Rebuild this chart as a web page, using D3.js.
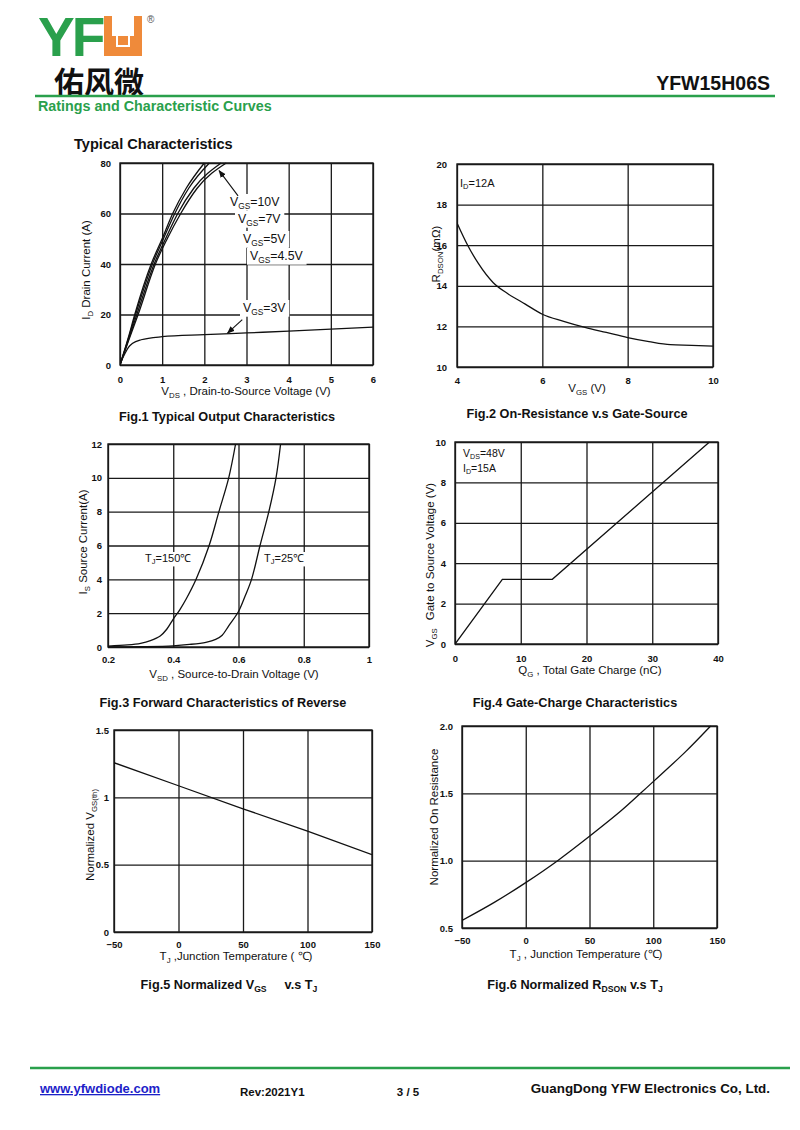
<!DOCTYPE html>
<html><head><meta charset="utf-8">
<script src="https://cdn.jsdelivr.net/npm/d3@7/dist/d3.min.js"></script>
<style>
body{margin:0;background:#fff}
svg{display:block}
text{font-family:"Liberation Sans",Arial,Helvetica,sans-serif;fill:#111}
</style>
</head><body>
<svg id="c" width="800" height="1130"></svg>
<script>
// ---------------- DATA ----------------
// Fig.1 Typical Output Characteristics  [VDS (V), ID (A)]
const fig1Vgs10  = [[0,0],[0.2,11],[0.35,20],[0.74,40],[1.0,50],[1.25,60],[1.57,70],[2.0,80]];
const fig1Vgs7   = [[0,0],[0.2,10.5],[0.37,20],[0.77,40],[1.03,50],[1.3,60],[1.63,70],[2.12,80]];
const fig1Vgs5   = [[0,0],[0.2,10],[0.40,20],[0.81,40],[1.08,50],[1.37,60],[1.75,70],[2.4,80]];
const fig1Vgs45  = [[0,0],[0.2,9.5],[0.43,20],[0.84,40],[1.12,50],[1.44,60],[1.83,70],[2.52,80]];
const fig1Vgs3   = [[0,0.5],[0.1,4],[0.2,7],[0.3,8.6],[0.5,10],[1,11.2],[2,12],[3,12.7],[4,13.4],[5,14.2],[6,15]];
const fig1XTicks = [0,1,2,3,4,5,6];
const fig1YTicks = [0,20,40,60,80];
const fig1Labels = ["=10V","=7V","=5V","=4.5V","=3V"];

// Fig.2 On-Resistance vs Gate-Source  [VGS (V), RDSON (mOhm)]
const fig2Rdson = [[4,17.1],[4.25,16.0],[4.5,15.1],[4.85,14.15],[5.2,13.6],[5.6,13.1],[6,12.6],[6.5,12.25],[7,11.95],[7.5,11.7],[8,11.45],[8.5,11.25],[9,11.1],[9.5,11.07],[10,11.03]];
const fig2XTicks = [4,6,8,10];
const fig2YTicks = [10,12,14,16,18,20];

// Fig.3 Forward characteristics of reverse diode  [VSD (V), IS (A)]
const fig3Tj150 = [[0.2,0.05],[0.26,0.12],[0.3,0.22],[0.33,0.38],[0.36,0.65],[0.38,1.05],[0.4,1.65],[0.42,2.2],[0.44,2.85],[0.47,4.0],[0.51,6.0],[0.54,8.0],[0.57,10.0],[0.591,12.0]];
const fig3Tj25  = [[0.2,0.0],[0.3,0.02],[0.4,0.07],[0.45,0.15],[0.5,0.28],[0.53,0.45],[0.55,0.7],[0.57,1.25],[0.6,2.1],[0.62,3.0],[0.64,4.0],[0.666,6.0],[0.693,8.0],[0.715,10.0],[0.729,12.0]];
const fig3XTicks = [0.2,0.4,0.6,0.8,1];
const fig3YTicks = [0,2,4,6,8,10,12];

// Fig.4 Gate charge  [QG (nC), VGS (V)]
const fig4Vgs = [[0,0],[7.2,3.2],[14.8,3.2],[38.7,10]];
const fig4XTicks = [0,10,20,30,40];
const fig4YTicks = [0,2,4,6,8,10];

// Fig.5 Normalized VGS(th) vs TJ
const fig5Vth = [[-50,1.257],[0,1.086],[50,0.915],[100,0.749],[150,0.575]];
const fig5XTicks = [-50,0,50,100,150];
const fig5YTicks = [0,0.5,1,1.5];

// Fig.6 Normalized RDSON vs TJ
const fig6Rds = [[-50,0.556],[-25,0.688],[0,0.837],[25,1.0],[50,1.181],[75,1.372],[90,1.50],[100,1.587],[125,1.806],[145,2.0]];
const fig6XTicks = [-50,0,50,100,150];
const fig6YTicks = [0.5,1.0,1.5,2.0];

// ---------------- DRAW ----------------
const svg = d3.select("#c");
const GREEN = "#2aa04c", ORANGE = "#ef8a3a", INK = "#1a1a1a";

// header
svg.append("text").attr("x",38).attr("y",56).attr("font-size",55).attr("font-weight","bold")
  .attr("letter-spacing",-3).style("fill",GREEN).text("YF");
svg.append("rect").attr("x",104).attr("y",16).attr("width",38).attr("height",40).attr("fill",ORANGE);
svg.append("rect").attr("x",112).attr("y",16).attr("width",22).attr("height",20).attr("fill","#fff");
svg.append("path").attr("d","M117,36 L117,46 L129,46 L129,36").attr("fill","none").attr("stroke","#fff").attr("stroke-width",2);
svg.append("text").attr("x",147).attr("y",23).attr("font-size",10).style("fill","#555").text("®");
svg.append("text").attr("x",54).attr("y",93).attr("font-size",30).attr("font-weight","bold")
  .style("font-family","'Noto Sans CJK SC',sans-serif").style("fill","#111").text("佑风微");
svg.append("text").attr("x",770).attr("y",90).attr("text-anchor","end").attr("font-size",19.5)
  .attr("font-weight","bold").text("YFW15H06S");
svg.append("line").attr("x1",35).attr("x2",775).attr("y1",96).attr("y2",96).attr("stroke",GREEN).attr("stroke-width",2.5);
svg.append("text").attr("x",38).attr("y",111).attr("font-size",14.3).attr("font-weight","bold").style("fill",GREEN)
  .text("Ratings and Characteristic Curves");
svg.append("text").attr("x",74).attr("y",149).attr("font-size",14.6).attr("font-weight","bold").text("Typical Characteristics");

// footer
svg.append("line").attr("x1",30).attr("x2",790).attr("y1",1068).attr("y2",1068).attr("stroke",GREEN).attr("stroke-width",2.5);
svg.append("text").attr("x",40).attr("y",1093).attr("font-size",13).attr("font-weight","bold")
  .attr("text-decoration","underline").style("fill","#1c22c8").text("www.yfwdiode.com");
svg.append("text").attr("x",240).attr("y",1096).attr("font-size",11.5).attr("font-weight","bold").text("Rev:2021Y1");
svg.append("text").attr("x",408).attr("y",1096).attr("text-anchor","middle").attr("font-size",11.5).attr("font-weight","bold").text("3 / 5");
svg.append("text").attr("x",770).attr("y",1093).attr("text-anchor","end").attr("font-size",13.4).attr("font-weight","bold")
  .text("GuangDong YFW Electronics Co, Ltd.");

// generic panel
let clipId = 0;
function panel(o){
  const x = d3.scaleLinear().domain(o.xd).range([o.l,o.r]);
  const y = d3.scaleLinear().domain(o.yd).range([o.b,o.t]);
  const g = svg.append("g");
  const ax = g.append("g").attr("transform",`translate(0,${o.b})`)
    .call(d3.axisBottom(x).tickValues(o.xt).tickSize(-(o.b-o.t)).tickPadding(o.xpad).tickFormat(o.xf||d3.format("")));
  const ay = g.append("g").attr("transform",`translate(${o.l},0)`)
    .call(d3.axisLeft(y).tickValues(o.yt).tickSize(-(o.r-o.l)).tickPadding(o.ypad).tickFormat(o.yf||d3.format("")));
  [ax,ay].forEach(a=>{
    a.select(".domain").remove();
    a.selectAll("line").attr("stroke",INK).attr("stroke-width",1.3);
    a.selectAll("text").attr("font-size",9.5).attr("font-weight","bold").style("fill","#111")
      .style("font-family","'Liberation Sans',Arial,sans-serif");
  });
  g.append("rect").attr("x",o.l).attr("y",o.t).attr("width",o.r-o.l).attr("height",o.b-o.t)
    .attr("fill","none").attr("stroke",INK).attr("stroke-width",1.4);
  const id = "clip"+(clipId++);
  g.append("clipPath").attr("id",id).append("rect").attr("x",o.l).attr("y",o.t-1).attr("width",o.r-o.l).attr("height",o.b-o.t+2);
  const plot = g.append("g").attr("clip-path",`url(#${id})`);
  const line = d3.line().x(d=>x(d[0])).y(d=>y(d[1])).curve(o.curve||d3.curveMonotoneX);
  return {x,y,g,plot,line};
}
function curve(p,data){
  p.plot.append("path").datum(data).attr("d",p.line).attr("fill","none")
    .attr("stroke","#111").attr("stroke-width",1.3);
}
// text with subscripts: parts = [[text,isSub,dx],...]
function rich(parent,x,y,parts,size,opts={}){
  const t = parent.append("text").attr("x",x).attr("y",y).attr("font-size",size);
  if(opts.anchor) t.attr("text-anchor",opts.anchor);
  if(opts.weight) t.attr("font-weight",opts.weight);
  if(opts.rotate) t.attr("transform",`rotate(-90,${x},${y})`);
  let sub=false;
  parts.forEach(([s,isSub,dx])=>{
    const ts = t.append("tspan").text(s);
    if(dx) ts.attr("dx",dx);
    if(isSub && !sub){ ts.attr("font-size",size*0.68).attr("dy",size*0.22); sub=true; }
    else if(!isSub && sub){ ts.attr("dy",-size*0.22); sub=false; }
  });
  return t;
}
function caption(x,y,parts){ rich(svg,x,y,parts,12.7,{anchor:"middle",weight:"bold"}); }

// ---- Fig.1
const p1 = panel({l:120,r:373,t:163,b:365,xd:[0,6],yd:[0,80],xt:fig1XTicks,yt:fig1YTicks,xpad:11.5,ypad:9});
[fig1Vgs10,fig1Vgs7,fig1Vgs5,fig1Vgs45,fig1Vgs3].forEach(d=>curve(p1,d));
const lab1 = [[230,206],[238,223],[243,243],[250,260],[243,312]];
fig1Labels.forEach((s,i)=>{
  const t = rich(p1.g,lab1[i][0],lab1[i][1],[["V"],["GS",true],[s]],12.3);
  const bb = t.node().getBBox();
  p1.g.insert("rect",()=>t.node()).attr("x",bb.x-3).attr("y",bb.y-1).attr("width",bb.width+6).attr("height",bb.height+1).attr("fill","#fff");
});
svg.append("defs").append("marker").attr("id","arr").attr("viewBox","0 0 10 10").attr("refX",9).attr("refY",5)
  .attr("markerWidth",7).attr("markerHeight",7).attr("orient","auto")
  .append("path").attr("d","M0,1 L10,5 L0,9 Z").attr("fill","#111");
p1.g.append("line").attr("x1",p1.x(2.8)).attr("y1",p1.y(67)).attr("x2",p1.x(2.35)).attr("y2",p1.y(77))
  .attr("stroke","#111").attr("stroke-width",1.1).attr("marker-end","url(#arr)");
p1.g.append("line").attr("x1",p1.x(2.9)).attr("y1",p1.y(18)).attr("x2",p1.x(2.55)).attr("y2",p1.y(12.6))
  .attr("stroke","#111").attr("stroke-width",1.1).attr("marker-end","url(#arr)");
rich(svg,246,395,[["V"],["DS",true],[" ,  Drain-to-Source Voltage (V)"]],11.5,{anchor:"middle"});
rich(svg,90,270,[["I"],["D",true],[" Drain Current (A)"]],11.5,{anchor:"middle",rotate:true});
caption(227,421,[["Fig.1 Typical Output Characteristics"]]);

// ---- Fig.2
const p2 = panel({l:457,r:713,t:164,b:367,xd:[4,10],yd:[10,20],xt:fig2XTicks,yt:fig2YTicks,xpad:10.5,ypad:10});
curve(p2,fig2Rdson);
rich(p2.g,460,187,[["I"],["D",true],["=12A"]],11);
rich(svg,587,392,[["V"],["GS",true],[" (V)"]],11.5,{anchor:"middle"});
rich(svg,440,254,[["R"],["DSON",true],["(mΩ)"]],11.5,{anchor:"middle",rotate:true});
caption(577,418,[["Fig.2 On-Resistance v.s Gate-Source"]]);

// ---- Fig.3
const p3 = panel({l:108,r:369,t:444,b:647,xd:[0.2,1],yd:[0,12],xt:fig3XTicks,yt:fig3YTicks,xpad:9.6,ypad:6,
  xf:d3.format(""),curve:d3.curveCatmullRom.alpha(0.5)});
curve(p3,fig3Tj150); curve(p3,fig3Tj25);
[[145,"=150℃"],[264,"=25℃"]].forEach(([xx,s])=>{
  const t = rich(p3.g,xx,562,[["T"],["J",true],[s]],11);
  const bb = t.node().getBBox();
  p3.g.insert("rect",()=>t.node()).attr("x",bb.x-1).attr("y",bb.y).attr("width",bb.width+2).attr("height",bb.height).attr("fill","#fff");
});
rich(svg,234,678,[["V"],["SD",true],[" , Source-to-Drain Voltage (V)"]],11.5,{anchor:"middle"});
rich(svg,87,542,[["I"],["S",true],[" Source Current(A)"]],11.5,{anchor:"middle",rotate:true});
caption(223,707,[["Fig.3 Forward Characteristics of Reverse"]]);

// ---- Fig.4
const p4 = panel({l:455,r:718,t:442,b:644,xd:[0,40],yd:[0,10],xt:fig4XTicks,yt:fig4YTicks,xpad:11.6,ypad:9,curve:d3.curveLinear});
curve(p4,fig4Vgs);
rich(p4.g,463,457,[["V"],["DS",true],["=48V"]],10.5);
rich(p4.g,463,472,[["I"],["D",true],["=15A"]],10.5);
rich(svg,590,674,[["Q"],["G",true],[" , Total Gate Charge (nC)"]],11.5,{anchor:"middle"});
rich(svg,434,565,[["V"],["GS",true],["Gate to Source Voltage (V)",false,8]],11.5,{anchor:"middle",rotate:true});
caption(575,707,[["Fig.4 Gate-Charge Characteristics"]]);

// ---- Fig.5
const p5 = panel({l:114,r:372,t:730,b:932,xd:[-50,150],yd:[0,1.5],xt:fig5XTicks,yt:fig5YTicks,xpad:9.5,ypad:5,curve:d3.curveLinear});
curve(p5,fig5Vth);
rich(svg,236,960,[["T"],["J",true],[" ,Junction Temperature ( ℃)"]],11.5,{anchor:"middle"});
rich(svg,94,835,[["Normalized V"],["GS(th)",true]],11.5,{anchor:"middle",rotate:true});
caption(229,989,[["Fig.5 Normalized V"],["GS",true],["v.s T",false,18],["J",true]]);

// ---- Fig.6
const p6 = panel({l:462,r:717,t:726,b:928,xd:[-50,150],yd:[0.5,2.0],xt:fig6XTicks,yt:fig6YTicks,xpad:9.6,ypad:9,
  yf:d3.format(".1f"),curve:d3.curveCatmullRom.alpha(0.5)});
curve(p6,fig6Rds);
rich(svg,586,958,[["T"],["J",true],[" , Junction Temperature (℃)"]],11.5,{anchor:"middle"});
rich(svg,438,817,[["Normalized On Resistance"]],11.5,{anchor:"middle",rotate:true});
caption(575,989,[["Fig.6 Normalized R"],["DSON",true],[" v.s T"],["J",true]]);
</script>
</body></html>
